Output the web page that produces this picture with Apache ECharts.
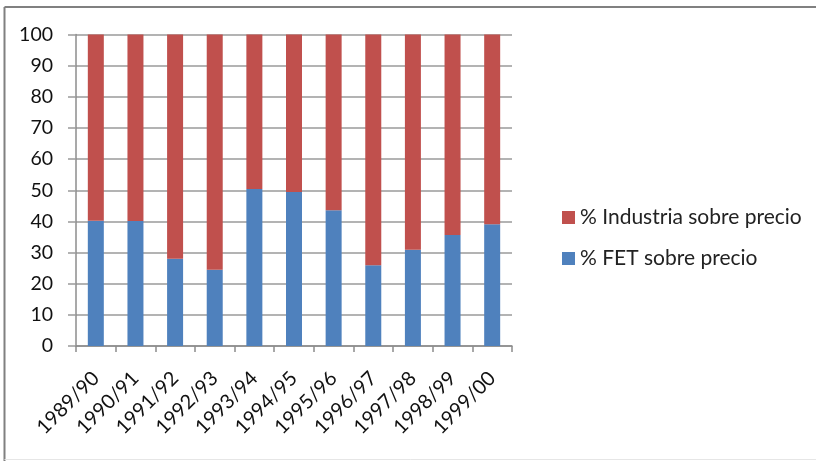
<!DOCTYPE html>
<html><head><meta charset="utf-8">
<script src="https://cdn.jsdelivr.net/npm/echarts@6/dist/echarts.min.js"></script>
<style>html,body{margin:0;padding:0;background:#fff}#c{width:816px;height:461px}</style>
</head><body><div id="c"></div>
<script>
const categories = ['1989/90','1990/91','1991/92','1992/93','1993/94','1994/95','1995/96','1996/97','1997/98','1998/99','1999/00'];
const fetValues = [40.2, 40.1, 28.0, 24.5, 50.4, 49.4, 43.6, 25.9, 30.9, 35.6, 39.1];
const industriaValues = [59.8, 59.9, 72.0, 75.5, 49.6, 50.6, 56.4, 74.1, 69.1, 64.4, 60.9];
const yTicks = [0, 10, 20, 30, 40, 50, 60, 70, 80, 90, 100];
const seriesNames = ['% Industria sobre precio', '% FET sobre precio'];

const FONT = 'Lato';
const chart = echarts.init(document.getElementById('c'), null, {renderer: 'canvas'});
chart.setOption({
  animation: false,
  backgroundColor: '#ffffff',
  grid: {left: 76, right: 304, top: 34.5, bottom: 115, containLabel: false},
  legend: {
    orient: 'vertical', left: 557, top: 200, itemGap: 16,
    itemWidth: 13, itemHeight: 13, icon: 'rect',
    data: seriesNames,
    textStyle: {fontFamily: FONT, fontSize: 21, color: '#222', lineHeight: 25}
  },
  xAxis: {
    type: 'category', data: categories,
    axisLine: {lineStyle: {color: '#8c8c8c', width: 1.5}},
    axisTick: {show: true, length: 6, lineStyle: {color: '#8c8c8c', width: 1.5}},
    axisLabel: {rotate: 45, fontFamily: FONT, fontSize: 20, color: '#111', margin: 29, interval: 0}
  },
  yAxis: {
    type: 'value', min: yTicks[0], max: yTicks[yTicks.length-1], interval: 10,
    axisLine: {show: true, lineStyle: {color: '#8c8c8c', width: 1.5}},
    axisTick: {show: true, length: 8, lineStyle: {color: '#9a9a9a', width: 1.5}},
    splitLine: {lineStyle: {color: '#9a9a9a', width: 1.5}},
    axisLabel: {fontFamily: FONT, fontSize: 19.5, color: '#111', margin: 23}
  },
  series: [
    {name: seriesNames[1], type: 'bar', stack: 'a', data: fetValues, barWidth: 16,
     itemStyle: {color: '#4F81BD'}},
    {name: seriesNames[0], type: 'bar', stack: 'a', data: industriaValues, barWidth: 16,
     itemStyle: {color: '#C0504D'}}
  ],
  graphic: [
    {type: 'line', shape: {x1: 4.5, y1: 7, x2: 816, y2: 7}, style: {stroke: '#808080', lineWidth: 2}},
    {type: 'line', shape: {x1: 4.5, y1: 7, x2: 4.5, y2: 461}, style: {stroke: '#808080', lineWidth: 2}},
    {type: 'line', shape: {x1: 4.5, y1: 459.5, x2: 816, y2: 459.5}, style: {stroke: '#e6e6e6', lineWidth: 1}}
  ]
});
</script></body></html>
